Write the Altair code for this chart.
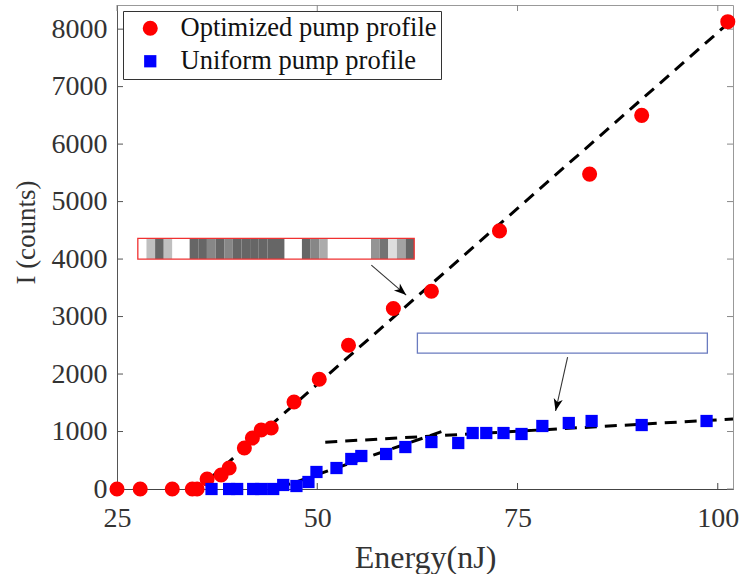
import math
import altair as alt
import pandas as pd

# ---------------- data ----------------
opt_energy = [25.0, 27.9, 31.9, 34.4, 35.0, 36.25, 38.0, 39.0, 40.9, 41.9, 43.0,
              44.25, 47.1, 50.25, 53.9, 59.5, 64.25, 72.75, 84.0, 90.5, 101.25]
opt_counts = [0, 0, 0, 0, 0, 174, 243, 365, 713, 887, 1026,
              1061, 1513, 1910, 2500, 3140, 3440, 4490, 5478, 6500, 8130]

uni_energy = [36.8, 39.0, 40.0, 42.0, 43.0, 44.5, 45.75, 47.4, 48.9, 49.9, 52.4,
              54.25, 55.5, 58.6, 61.0, 64.25, 67.6, 69.4, 71.1, 73.25, 75.5,
              78.1, 81.4, 84.25, 90.5, 98.6]
uni_counts = [0, 0, 0, 0, 0, 0, 70, 52, 122, 296, 365,
              522, 574, 609, 730, 817, 800, 974, 974, 974, 957,
              1096, 1148, 1183, 1113, 1183]

series_names = ["Optimized pump profile", "Uniform pump profile"]
series_colors = ["#ff0000", "#0000ff"]
series_shapes = ["circle", "square"]

# dashed fit lines (end points)
fit_seg = ["opt", "opt", "uni_low", "uni_low", "uni_high", "uni_high"]
fit_energy = [36.5, 101.9, 45.2, 66.1, 51.0, 101.9]
fit_counts = [170, 8175, 20, 1026, 815, 1218]

# annotation arrows
arrow_x = [56.75, 81.25]
arrow_y = [3896, 2296]
arrow_x2 = [61.1, 79.75]
arrow_y2 = [3374, 1357]

# grey-level strip of the optimized pump profile (0 = black, 1 = white)
strip_gray = [1.0, 0.75, 0.40, 0.75, 1.0, 1.0, 0.40, 0.40, 0.53, 0.40, 0.53,
              0.40, 0.40, 0.40, 0.40, 0.40, 0.40, 1.0, 1.0, 0.40, 0.53, 0.67,
              1.0, 1.0, 1.0, 1.0, 1.0, 0.58, 0.45, 0.87, 0.64, 0.40]

x_ticks = [25, 50, 75, 100]
y_ticks = [0, 1000, 2000, 3000, 4000, 5000, 6000, 7000, 8000]

# ---------------- layout ----------------
W, H = 616, 484
XDOM = [25, 101.9]
YDOM = [0, 8420]
FONT = "Liberation Serif"

xs = alt.Scale(domain=XDOM, nice=False, zero=False)
ys = alt.Scale(domain=YDOM, nice=False, zero=False)

pts = pd.DataFrame({
    "energy": opt_energy + uni_energy,
    "counts": opt_counts + uni_counts,
    "series": [series_names[0]] * len(opt_energy) + [series_names[1]] * len(uni_energy),
})

fits = pd.DataFrame({"seg": fit_seg, "energy": fit_energy, "counts": fit_counts})

px_per_x = W / (XDOM[1] - XDOM[0])
px_per_y = H / (YDOM[1] - YDOM[0])
angles = [math.degrees(math.atan2(-(y2 - y1) * px_per_y, (x2 - x1) * px_per_x))
          for x1, y1, x2, y2 in zip(arrow_x, arrow_y, arrow_x2, arrow_y2)]
arrows = pd.DataFrame({"x": arrow_x, "y": arrow_y, "x2": arrow_x2, "y2": arrow_y2, "ang": angles})

# strip placement (inset picture)
S_X0, S_X1, S_Y0, S_Y1 = 27.6, 62.1, 4000, 4360
cw = (S_X1 - S_X0) / len(strip_gray)
def hexgray(g):
    v = int(round(g * 255))
    return "#%02x%02x%02x" % (v, v, v)
strip = pd.DataFrame({
    "x0": [S_X0 + i * cw for i in range(len(strip_gray))],
    "x1": [S_X0 + (i + 1) * cw for i in range(len(strip_gray))],
    "c": [hexgray(g) for g in strip_gray],
})
strip["y0"] = S_Y0
strip["y1"] = S_Y1

boxes = pd.DataFrame({
    "x0": [S_X0, 62.5], "x1": [S_X1, 98.7],
    "y0": [S_Y0, 2365], "y1": [S_Y1, 2713],
    "col": ["#f03030", "#6a7bbf"],
})

xt = pd.DataFrame({"v": x_ticks})
yt = pd.DataFrame({"v": y_ticks})

# ---------------- layers ----------------
xaxis = alt.Axis(values=x_ticks, ticks=False, grid=False, domainColor="#444",
                 labelFont=FONT, labelFontSize=28, labelColor="#333", labelPadding=15,
                 labelFlush=False, title="Energy(nJ)", titleFont=FONT, titleFontSize=32,
                 titleFontWeight="normal", titleColor="#333", titleY=78,
                 titleBaseline="alphabetic")
yaxis = alt.Axis(values=y_ticks, format="d", ticks=False, grid=False, domainColor="#555",
                 labelFont=FONT, labelFontSize=28, labelColor="#333", labelPadding=10,
                 title="I (counts)", titleFont=FONT, titleFontSize=27,
                 titleFontWeight="normal", titleColor="#333", titleX=-83, titleY=227,
                 titleBaseline="alphabetic")

strip_layer = alt.Chart(strip).mark_rect(strokeWidth=0).encode(
    x=alt.X("x0:Q", scale=xs, axis=xaxis), x2="x1:Q",
    y=alt.Y("y0:Q", scale=ys, axis=yaxis), y2="y1:Q",
    color=alt.Color("c:N", scale=None),
)

box_layer = alt.Chart(boxes).mark_rect(filled=False, strokeWidth=1.3).encode(
    x=alt.X("x0:Q", scale=xs), x2="x1:Q",
    y=alt.Y("y0:Q", scale=ys), y2="y1:Q",
    stroke=alt.Stroke("col:N", scale=None),
)

fit_layer = alt.Chart(fits).mark_line(color="black", strokeWidth=3, strokeDash=[12, 8]).encode(
    x=alt.X("energy:Q", scale=xs), y=alt.Y("counts:Q", scale=ys), detail="seg:N",
)

arrow_line = alt.Chart(arrows).mark_rule(color="#333", strokeWidth=1.1).encode(
    x=alt.X("x:Q", scale=xs), y=alt.Y("y:Q", scale=ys), x2="x2:Q", y2="y2:Q",
)
arrow_head = alt.Chart(arrows).mark_point(
    shape="M0,0 L-2,-0.75 L-1.45,0 L-2,0.75 Z", filled=True, color="black",
    size=150, opacity=1, strokeWidth=0,
).encode(
    x=alt.X("x2:Q", scale=xs), y=alt.Y("y2:Q", scale=ys),
    angle=alt.Angle("ang:Q", scale=None),
)

def leg():
    return alt.Legend(title=None, orient="none", legendX=6, legendY=6, padding=4,
                      symbolOffset=10, labelOffset=17, labelFont=FONT, labelFontSize=26.5,
                      labelColor="#111", rowPadding=6, strokeColor="#333",
                      fillColor="white", symbolStrokeWidth=0, labelLimit=500)

point_layer = alt.Chart(pts).mark_point(filled=True, opacity=1, strokeWidth=0).encode(
    x=alt.X("energy:Q", scale=xs), y=alt.Y("counts:Q", scale=ys),
    color=alt.Color("series:N", scale=alt.Scale(domain=series_names, range=series_colors), legend=leg()),
    shape=alt.Shape("series:N", scale=alt.Scale(domain=series_names, range=series_shapes), legend=leg()),
    size=alt.Size("series:N", scale=alt.Scale(domain=series_names, range=[227, 150]), legend=leg()),
)

TL = 6
tick_b = alt.Chart(xt).mark_rule(color="#444", strokeWidth=1).encode(
    x=alt.X("v:Q", scale=xs), y=alt.value(H), y2=alt.value(H - TL))
tick_t = alt.Chart(xt).mark_rule(color="#888", strokeWidth=1).encode(
    x=alt.X("v:Q", scale=xs), y=alt.value(0), y2=alt.value(TL))
tick_l = alt.Chart(yt).mark_rule(color="#555", strokeWidth=1).encode(
    y=alt.Y("v:Q", scale=ys), x=alt.value(0), x2=alt.value(TL))
tick_r = alt.Chart(yt).mark_rule(color="#888", strokeWidth=1).encode(
    y=alt.Y("v:Q", scale=ys), x=alt.value(W), x2=alt.value(W - TL))

chart = alt.layer(
    strip_layer, box_layer, tick_b, tick_t, tick_l, tick_r,
    fit_layer, arrow_line, arrow_head, point_layer,
).properties(
    width=W, height=H,
    padding={"left": 117, "top": 5, "right": 9, "bottom": 85},
    autosize=alt.AutoSizeParams(type="none"),
    background="white",
).configure_view(stroke="#999", strokeWidth=1)

chart.save("out.html", embed_options={"renderer": "svg", "actions": False})
